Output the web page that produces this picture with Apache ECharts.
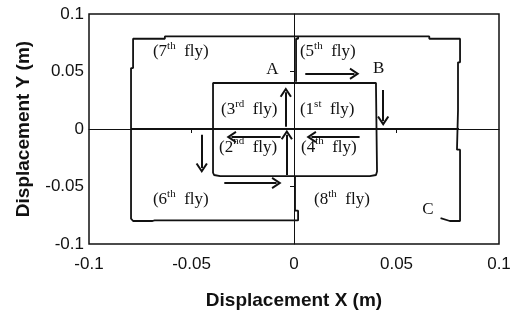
<!DOCTYPE html>
<html>
<head>
<meta charset="utf-8">
<script src="https://cdn.jsdelivr.net/npm/echarts@6/dist/echarts.min.js"></script>
<style>
  html, body { margin: 0; padding: 0; background: #fff; }
  #main { width: 515px; height: 316px; }
</style>
</head>
<body>
<div id="main"></div>
<script>
// tick labels (m)
const xTicks = [-0.1, -0.05, 0, 0.05, 0.1];
const yTicks = [-0.1, -0.05, 0, 0.05, 0.1];
const zeroTicks = [-0.05, 0.05];

// flight paths, [x, y] in metres
const innerLoop = [
  [0.001, 0.040], [0.040, 0.040], [0.040, 0.036], [0.0405, 0.036],
  [0.0405, -0.037], [0.040, -0.037], [0.040, -0.040], [0.037, -0.041],
  [-0.036, -0.041], [-0.039, -0.040], [-0.0395, -0.038], [-0.0395, 0.040],
  [0.001, 0.040]
];
const upperRight = [
  [0.001, 0.041], [0.001, 0.0785], [0.002, 0.0785], [0.002, 0.0805],
  [0.066, 0.0805], [0.066, 0.0785], [0.081, 0.0785], [0.081, 0.058],
  [0.080, 0.058], [0.080, 0.016], [0.0795, 0.016], [0.0795, -0.018],
  [0.081, -0.018], [0.081, -0.080], [0.076, -0.080], [0.0715, -0.0775]
];
const leftLoop = [
  [0.002, 0.0805], [-0.063, 0.0805], [-0.063, 0.0785], [-0.0785, 0.0785],
  [-0.0785, 0.053], [-0.0795, 0.053], [-0.0795, -0.078], [-0.0785, -0.080],
  [-0.069, -0.080], [-0.068, -0.0795], [0.002, -0.0795], [0.002, -0.071],
  [0.0005, -0.071], [0.0005, -0.041]
];
const zeroPass = [[-0.0795, 0], [0.0805, 0]];

// arrows, [from, to]
const arrows = [
  [[0.0055, 0.048], [0.0295, 0.048]],
  [[0.0435, 0.034], [0.0435, 0.007]],
  [[-0.004, 0.002], [-0.004, 0.032]],
  [[-0.0035, -0.040], [-0.0035, -0.005]],
  [[-0.0065, -0.007], [-0.0305, -0.007]],
  [[0.032, -0.007], [0.0085, -0.007]],
  [[-0.034, -0.047], [-0.0085, -0.047]],
  [[-0.045, -0.005], [-0.045, -0.034]]
];

// annotations
const labelText = [
  '(7{s|th}  fly)', '(5{s|th}  fly)', '(3{s|rd}  fly)', '(1{s|st}  fly)',
  '(2{s|nd}  fly)', '(4{s|th}  fly)', '(6{s|th}  fly)', '(8{s|th}  fly)',
  'A', 'B', 'C'
];
const labelPos = [
  [-0.0688, 0.067], [0.0029, 0.067], [-0.0356, 0.0165], [0.0029, 0.0165],
  [-0.0366, -0.0157], [0.0034, -0.0157], [-0.0688, -0.0617], [0.0098, -0.0617],
  [-0.0135, 0.0513], [0.0385, 0.053], [0.0625, -0.0696]
];

const chevron = 'path://M5,0 L10,9 L8.6,10 L5,3.6 L1.4,10 L0,9 Z';
const ink = '#111';
const fmt = v => String(+v.toFixed(2));

const chart = echarts.init(document.getElementById('main'));

const pathSeries = (data, width) => ({
  type: 'line',
  data: data,
  symbol: 'none',
  silent: true,
  lineStyle: { color: ink, width: width || 1.8 }
});

chart.setOption({
  animation: false,
  grid: {
    left: 89, right: 16, top: 14, bottom: 72,
    show: true, borderColor: ink, borderWidth: 1.5
  },
  xAxis: [
    {
      type: 'value', min: -0.1, max: 0.1, interval: 0.05, position: 'bottom',
      name: 'Displacement X (m)', nameLocation: 'middle', nameGap: 47,
      nameTextStyle: { fontFamily: 'Liberation Sans', fontSize: 19, fontWeight: 'bold', color: ink },
      axisLine: { show: false }, axisTick: { show: false }, splitLine: { show: false },
      axisLabel: {
        customValues: xTicks, formatter: fmt, margin: 12,
        fontFamily: 'Liberation Sans', fontSize: 17, color: ink
      }
    },
    {
      type: 'value', min: -0.1, max: 0.1, interval: 0.05, position: 'top',
      axisLine: { onZero: true, lineStyle: { color: ink, width: 1 } },
      axisTick: { customValues: zeroTicks, inside: true, length: 4, lineStyle: { color: ink } },
      axisLabel: { show: false }, splitLine: { show: false }
    }
  ],
  yAxis: [
    {
      type: 'value', min: -0.1, max: 0.1, interval: 0.05, position: 'left',
      name: 'Displacement Y (m)', nameLocation: 'middle', nameGap: 56, nameRotate: 90,
      nameTextStyle: { fontFamily: 'Liberation Sans', fontSize: 19, fontWeight: 'bold', color: ink },
      axisLine: { show: false }, axisTick: { show: false }, splitLine: { show: false },
      axisLabel: {
        customValues: yTicks, formatter: fmt, margin: 5,
        fontFamily: 'Liberation Sans', fontSize: 17, color: ink
      }
    },
    {
      type: 'value', min: -0.1, max: 0.1, interval: 0.05, position: 'right',
      axisLine: { onZero: true, lineStyle: { color: ink, width: 1 } },
      axisTick: { customValues: zeroTicks, inside: true, length: 4, lineStyle: { color: ink } },
      axisLabel: { show: false }, splitLine: { show: false }
    }
  ],
  series: [
    pathSeries(innerLoop),
    pathSeries(upperRight),
    pathSeries(leftLoop),
    pathSeries(zeroPass, 2),
    {
      type: 'line',
      data: [],
      silent: true,
      markLine: {
        silent: true,
        symbol: ['none', chevron],
        symbolSize: [12, 10],
        label: { show: false },
        lineStyle: { color: ink, width: 2, type: 'solid' },
        emphasis: { disabled: true },
        data: arrows.map(a => [{ coord: a[0] }, { coord: a[1] }])
      }
    },
    {
      type: 'scatter',
      symbolSize: 0,
      silent: true,
      itemStyle: { opacity: 1 },
      data: labelPos.map((p, i) => ({ value: p, name: labelText[i] })),
      label: {
        show: true,
        position: 'right',
        distance: 0,
        formatter: p => p.name,
        fontFamily: 'Liberation Serif',
        fontSize: 17,
        lineHeight: 22,
        color: ink,
        rich: {
          s: { fontFamily: 'Liberation Serif', fontSize: 11, lineHeight: 12, verticalAlign: 'top', color: ink }
        }
      }
    }
  ]
});
</script>
</body>
</html>
